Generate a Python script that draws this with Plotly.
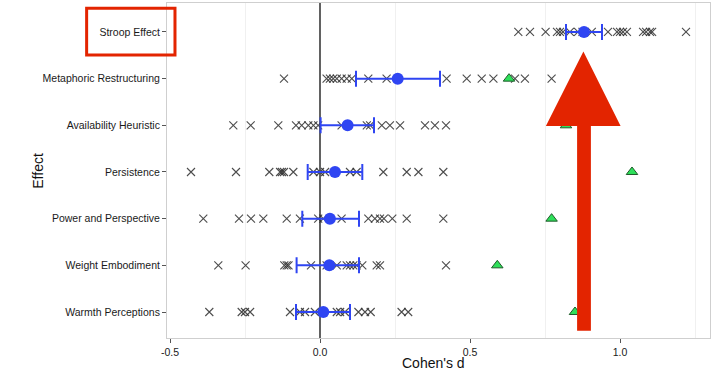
import plotly.graph_objects as go

# Effects, listed bottom to top
effects = ["Warmth Perceptions", "Weight Embodiment", "Power and Perspective", "Persistence",
           "Availability Heuristic", "Metaphoric Restructuring", "Stroop Effect"]

# Replication effect sizes (Cohen's d) per effect
warmth_d = [-0.369, -0.261, -0.25, -0.233, -0.1, -0.067, -0.05, -0.017, 0.056, 0.067, 0.083,
            0.128, 0.15, 0.169, 0.272, 0.294]
weight_d = [-0.339, -0.248, -0.119, -0.111, -0.105, -0.03, 0.022, 0.056, 0.089, 0.1, 0.111,
            0.122, 0.141, 0.189, 0.2, 0.42]
power_d = [-0.389, -0.27, -0.23, -0.189, -0.111, -0.067, -0.006, 0.011, 0.072, 0.161, 0.183,
           0.2, 0.213, 0.241, 0.289, 0.411]
persistence_d = [-0.43, -0.28, -0.169, -0.133, -0.127, -0.12, -0.089, -0.022, 0.0, 0.017, 0.1,
                 0.122, 0.211, 0.289, 0.328, 0.411]
availability_d = [-0.289, -0.231, -0.139, -0.08, -0.061, -0.039, -0.022, -0.006, 0.072, 0.156,
                  0.167, 0.206, 0.233, 0.267, 0.35, 0.383, 0.42]
metaphoric_d = [-0.12, 0.022, 0.033, 0.044, 0.056, 0.072, 0.089, 0.106, 0.161, 0.222, 0.422,
                0.489, 0.539, 0.578, 0.65, 0.683, 0.772]
stroop_d = [0.661, 0.70, 0.752, 0.79, 0.80, 0.81, 0.833, 0.86, 0.875, 0.906, 0.96, 0.99, 1.0,
            1.01, 1.023, 1.077, 1.087, 1.10, 1.107, 1.22]

# Pooled mean and confidence interval per effect (same order as effects)
mean_d = [0.011, 0.031, 0.033, 0.05, 0.092, 0.259, 0.88]
ci_low = [-0.08, -0.078, -0.059, -0.041, 0.002, 0.12, 0.82]
ci_high = [0.10, 0.13, 0.13, 0.141, 0.18, 0.40, 0.94]

# Original study effect sizes (None = not shown)
original_d = [0.85, 0.591, 0.772, 1.04, 0.82, 0.63, None]

replications = [warmth_d, weight_d, power_d, persistence_d, availability_d, metaphoric_d, stroop_d]

RED = "#E32400"
fig = go.Figure()

xs, ys = [], []
for eff, vals in zip(effects, replications):
    xs += vals
    ys += [eff] * len(vals)
fig.add_trace(go.Scatter(
    x=xs, y=ys, mode="markers", showlegend=False,
    marker=dict(symbol="x-thin", size=8, line=dict(width=1.1, color="rgba(45,45,45,0.85)"))))

fig.add_trace(go.Scatter(
    x=mean_d, y=effects, mode="markers", showlegend=False,
    marker=dict(symbol="circle", size=12, color="#2F45F2"),
    error_x=dict(type="data", symmetric=False,
                 array=[h - m for h, m in zip(ci_high, mean_d)],
                 arrayminus=[m - l for m, l in zip(mean_d, ci_low)],
                 color="#2F45F2", thickness=2, width=8)))

ox = [o for o in original_d if o is not None]
oy = [e for e, o in zip(effects, original_d) if o is not None]
fig.add_trace(go.Scatter(
    x=ox, y=oy, mode="markers", showlegend=False,
    marker=dict(symbol="triangle-up", size=10, color="#2EE05A",
                line=dict(width=1, color="#1f5a2a"))))

# Zero reference line
fig.add_shape(type="line", xref="x", yref="paper", x0=0, x1=0, y0=0, y1=1,
              line=dict(color="#3a3a3a", width=1.6), layer="below")

# Red arrow annotation
fig.add_shape(type="path", xref="x", yref="paper",
              path="M 0.857,0.022 L 0.903,0.022 L 0.903,0.633 L 1.002,0.633 L 0.878,0.855 "
                   "L 0.753,0.633 L 0.857,0.633 Z",
              fillcolor=RED, line=dict(width=0), layer="above")
# Red box around label
fig.add_shape(type="rect", xref="paper", yref="paper", x0=-0.148, x1=0.0147, y0=0.8448, y1=0.9842,
              line=dict(color=RED, width=3), fillcolor="rgba(0,0,0,0)")

# Axis titles
fig.add_annotation(text="Effect", xref="paper", yref="paper", x=-0.239, y=0.5,
                   textangle=-90, showarrow=False, xanchor="center", yanchor="middle",
                   font=dict(size=14, color="#111"))
fig.add_annotation(text="Cohen's d", xref="paper", yref="paper", x=0.49, y=-0.045,
                   showarrow=False, xanchor="center", yanchor="top",
                   font=dict(size=14, color="#111"))

fig.update_layout(
    width=721, height=379,
    margin=dict(l=167, r=11, t=3, b=41),
    paper_bgcolor="white", plot_bgcolor="white",
    font=dict(family="Liberation Sans, Arial, sans-serif", size=10.5, color="#1a1a1a"),
    xaxis=dict(range=[-0.51, 1.30], tickvals=[-0.5, 0, 0.5, 1.0],
               ticktext=["-0.5", "0.0", "0.5", "1.0"], ticks="outside", ticklen=4,
               tickcolor="#555", showgrid=False, zeroline=False, automargin=False,
               showline=True, mirror=True, linecolor="#cfcfcf", linewidth=1,
               minor=dict(tickvals=[-0.25, 0.25, 0.75, 1.25], showgrid=True,
                          gridcolor="#f0f0f0", gridwidth=1, ticks="")),
    yaxis=dict(type="category", categoryorder="array", categoryarray=effects,
               range=[-0.557, 6.621], ticks="outside", ticklen=4, tickcolor="#555",
               showgrid=False, zeroline=False, automargin=False,
               showline=True, mirror=True, linecolor="#cfcfcf", linewidth=1),
)

fig.write_html("out.html", config={"displayModeBar": False},
               post_script="document.body.style.margin='0';")
